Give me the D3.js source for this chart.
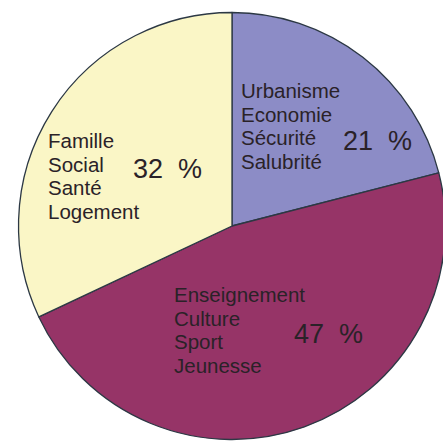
<!DOCTYPE html>
<html>
<head>
<meta charset="utf-8">
<script src="https://cdn.jsdelivr.net/npm/d3@7"></script>
<style>
  body { margin: 0; background: #fff; }
  svg { display: block; }
</style>
</head>
<body>
<svg id="chart"></svg>
<script>
// budget shares, clockwise from 12 o'clock
const shares = [21, 47, 32];
const groups = [
  ["Urbanisme", "Economie", "Sécurité", "Salubrité"],
  ["Enseignement", "Culture", "Sport", "Jeunesse"],
  ["Famille", "Social", "Santé", "Logement"]
];
const sliceColors = ["#8c8cc6", "#963467", "#faf6c6"];

const width = 443, height = 441;
const cx = 232, cy = 226, radius = 213.5;

// label placement relative to pie centre: [words x, first baseline, pct x, pct baseline]
const labelPos = [
  [9, -128, 111, -76],
  [-58, 76, 62, 117],
  [-184, -78, -99, -48]
];

const svg = d3.select("#chart")
    .attr("width", width)
    .attr("height", height);

const g = svg.append("g")
    .attr("transform", `translate(${cx},${cy})`);

const pie = d3.pie().sort(null).value(d => d);
const arc = d3.arc().innerRadius(0).outerRadius(radius);

g.selectAll("path.slice")
  .data(pie(shares))
  .join("path")
    .attr("class", "slice")
    .attr("d", arc)
    .attr("fill", (d, i) => sliceColors[i])
    .attr("stroke", "#2c3844")
    .attr("stroke-width", 1.3)
    .attr("stroke-linejoin", "round");

shares.forEach((v, i) => {
  const p = labelPos[i];
  const t = g.append("text")
      .attr("font-family", "Liberation Sans, Arial, sans-serif")
      .attr("font-size", "20.5px")
      .attr("fill", "#2a2228");
  groups[i].forEach((w, j) => {
    t.append("tspan")
      .attr("x", p[0])
      .attr("y", p[1] + j * 23.7)
      .text(w);
  });
  g.append("text")
      .attr("x", p[2])
      .attr("y", p[3])
      .attr("font-family", "Liberation Sans, Arial, sans-serif")
      .attr("font-size", "27px")
      .attr("fill", "#2a2228")
      .style("white-space", "pre")
      .text(v + "  %");
});
</script>
</body>
</html>
